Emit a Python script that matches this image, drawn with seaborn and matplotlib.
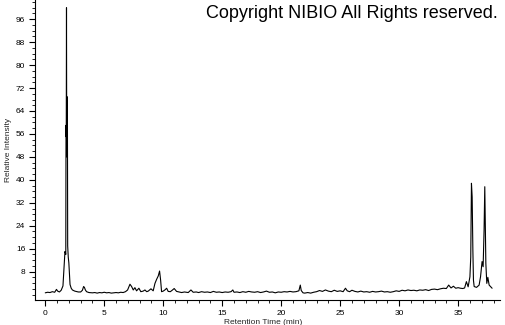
import matplotlib
matplotlib.use("Agg")
import matplotlib.pyplot as plt
import seaborn as sns
import pandas as pd
from matplotlib.ticker import MultipleLocator, FixedLocator

# Retention time (min) and relative intensity
time_min = [
    0.0, 0.2, 0.4, 0.6, 0.8, 0.95, 1.05, 1.2, 1.35, 1.5, 1.58, 1.67, 1.74,
    1.76, 1.78, 1.80, 1.82, 1.84, 1.86, 1.88, 1.90, 1.95, 2.0, 2.05, 2.1,
    2.2, 2.3, 2.5, 2.8, 3.0, 3.15, 3.25, 3.32, 3.4, 3.5, 3.7,
    4.0, 4.2, 4.4, 4.6, 4.8, 5.0, 5.2, 5.4, 5.6, 5.8, 6.0, 6.2, 6.4, 6.6, 6.8,
    6.98, 7.18, 7.32, 7.46, 7.6, 7.74, 7.94, 8.1, 8.3, 8.45, 8.6, 8.73, 8.96,
    9.15, 9.3, 9.44, 9.58, 9.69, 9.78, 9.86, 10.0, 10.14, 10.29, 10.42, 10.6,
    10.76, 10.93, 11.13, 11.35, 11.56, 11.8, 12.12, 12.35, 12.54,
    12.8, 13.0, 13.25, 13.5, 13.75, 14.0, 14.25, 14.5, 14.75, 15.0, 15.25,
    15.5, 15.75, 15.9, 16.0, 16.25, 16.5, 16.75, 17.0, 17.25, 17.5, 17.75,
    18.0, 18.25, 18.5, 18.75, 19.0, 19.25, 19.5, 19.75, 20.0, 20.25, 20.5,
    20.75, 21.0, 21.25, 21.5, 21.62, 21.7, 21.85, 22.0, 22.25, 22.5, 22.75,
    23.0, 23.25, 23.5, 23.75, 24.0, 24.25, 24.5, 24.75, 25.0, 25.25, 25.45,
    25.6, 25.8, 26.0, 26.25, 26.5, 26.75, 27.0, 27.25, 27.5, 27.75, 28.0,
    28.25, 28.5, 28.75, 29.0, 29.25, 29.5, 29.75, 30.0, 30.25, 30.5, 30.75,
    31.0, 31.25, 31.5, 31.75, 32.0, 32.25, 32.5, 32.75, 33.0, 33.25, 33.5,
    33.75, 34.0, 34.2, 34.4, 34.6, 34.8, 35.0, 35.2, 35.4, 35.55, 35.7,
    35.85, 36.0, 36.07, 36.13, 36.19, 36.25, 36.3, 36.36, 36.56, 36.78,
    36.9, 37.03, 37.12, 37.2, 37.26, 37.35, 37.43, 37.52, 37.63, 37.74, 37.88,
]
intensity = [
    0.6, 0.8, 0.7, 1.0, 0.8, 1.8, 1.2, 0.9, 1.5, 3.0, 8.6, 15.0, 14.0,
    59.0, 55.0, 100.0, 48.0, 69.0, 49.0, 60.0, 17.0, 13.0, 11.0, 7.0, 3.5,
    2.2, 1.6, 1.2, 0.9, 0.9, 1.5, 2.8, 2.5, 1.6, 1.0, 0.7,
    0.6, 0.7, 0.5, 0.7, 0.6, 0.8, 0.6, 0.7, 0.5, 0.6, 0.7, 0.6, 0.8, 0.7, 1.0,
    1.6, 3.6, 2.8, 1.6, 2.4, 1.3, 2.2, 1.0, 1.2, 1.6, 1.0, 1.2, 2.0,
    1.3, 3.9, 5.3, 6.5, 8.2, 5.0, 1.0, 1.2, 1.6, 2.2, 1.1, 1.0,
    1.5, 2.1, 1.1, 0.9, 0.7, 0.9, 0.7, 1.6, 0.8,
    0.9, 0.7, 1.0, 0.8, 0.9, 0.7, 1.1, 0.8, 0.9, 0.7, 0.9,
    0.8, 1.0, 1.6, 0.8, 0.9, 0.7, 1.0, 0.8, 1.1, 0.9, 0.8,
    1.0, 0.7, 0.9, 1.2, 0.8, 0.9, 0.6, 0.9, 0.8, 1.0, 0.9,
    1.1, 0.9, 1.0, 1.3, 3.3, 1.4, 0.6, 0.5, 0.7, 0.5, 0.8,
    1.0, 1.4, 1.1, 1.6, 1.2, 1.0, 1.5, 1.1, 1.3, 1.0, 2.2,
    1.3, 1.0, 1.5, 1.1, 0.9, 1.2, 0.9, 1.0, 0.8, 1.1, 0.9,
    1.0, 1.2, 0.9, 1.0, 0.8, 1.0, 1.3, 1.1, 1.5, 1.3, 1.6,
    1.4, 1.5, 1.3, 1.6, 1.5, 1.7, 1.4, 1.8, 1.9, 1.7, 2.0,
    2.2, 2.1, 3.3, 2.3, 2.9, 2.2, 2.4, 2.2, 2.1, 2.3, 4.5,
    2.7, 6.2, 13.0, 38.8, 34.0, 15.5, 5.0, 2.8, 2.5, 3.3,
    6.2, 11.5, 9.7, 22.5, 37.6, 10.9, 3.9, 6.0, 3.3, 2.8, 2.2,
]

x_major_ticks = [0, 5, 10, 15, 20, 25, 30, 35]
y_major_ticks = [8, 16, 24, 32, 40, 48, 56, 64, 72, 80, 88, 96]

df = pd.DataFrame({"Retention Time (min)": time_min, "Relative Intensity": intensity})

sns.set_style("ticks")
plt.rcParams["font.family"] = ["Liberation Sans", "DejaVu Sans"]

fig = plt.figure(figsize=(5.05, 3.25), dpi=100)
ax = fig.add_axes([35 / 505, 25 / 325, 465 / 505, 300 / 325])

sns.lineplot(data=df, x="Retention Time (min)", y="Relative Intensity",
             estimator=None, sort=False, color="black", linewidth=0.8, ax=ax)

ax.set_xlim(-0.87, 38.55)
ax.set_ylim(-1.9, 102.7)
ax.xaxis.set_major_locator(FixedLocator(x_major_ticks))
ax.xaxis.set_minor_locator(MultipleLocator(1))
ax.yaxis.set_major_locator(FixedLocator(y_major_ticks))
ax.yaxis.set_minor_locator(MultipleLocator(2))
ax.tick_params(axis="both", which="major", length=4, width=0.8, labelsize=6,
               colors="black", pad=3)
ax.tick_params(axis="both", which="minor", length=2, width=0.6, colors="black")

for s in ["top", "right"]:
    ax.spines[s].set_visible(False)
for s in ["left", "bottom"]:
    ax.spines[s].set_linewidth(0.8)
    ax.spines[s].set_color("black")

ax.set_xlabel("Retention Time (min)", fontsize=6)
ax.set_ylabel("Relative Intensity", fontsize=6)
ax.xaxis.set_label_coords(0.49, -0.065)
ax.yaxis.set_label_coords(-0.05, 0.5)

fig.text(498 / 505, 1 - 14 / 325, "Copyright NIBIO All Rights reserved.",
         ha="right", va="center", fontsize=13, color="black")

fig.savefig("out.png", dpi=100)
